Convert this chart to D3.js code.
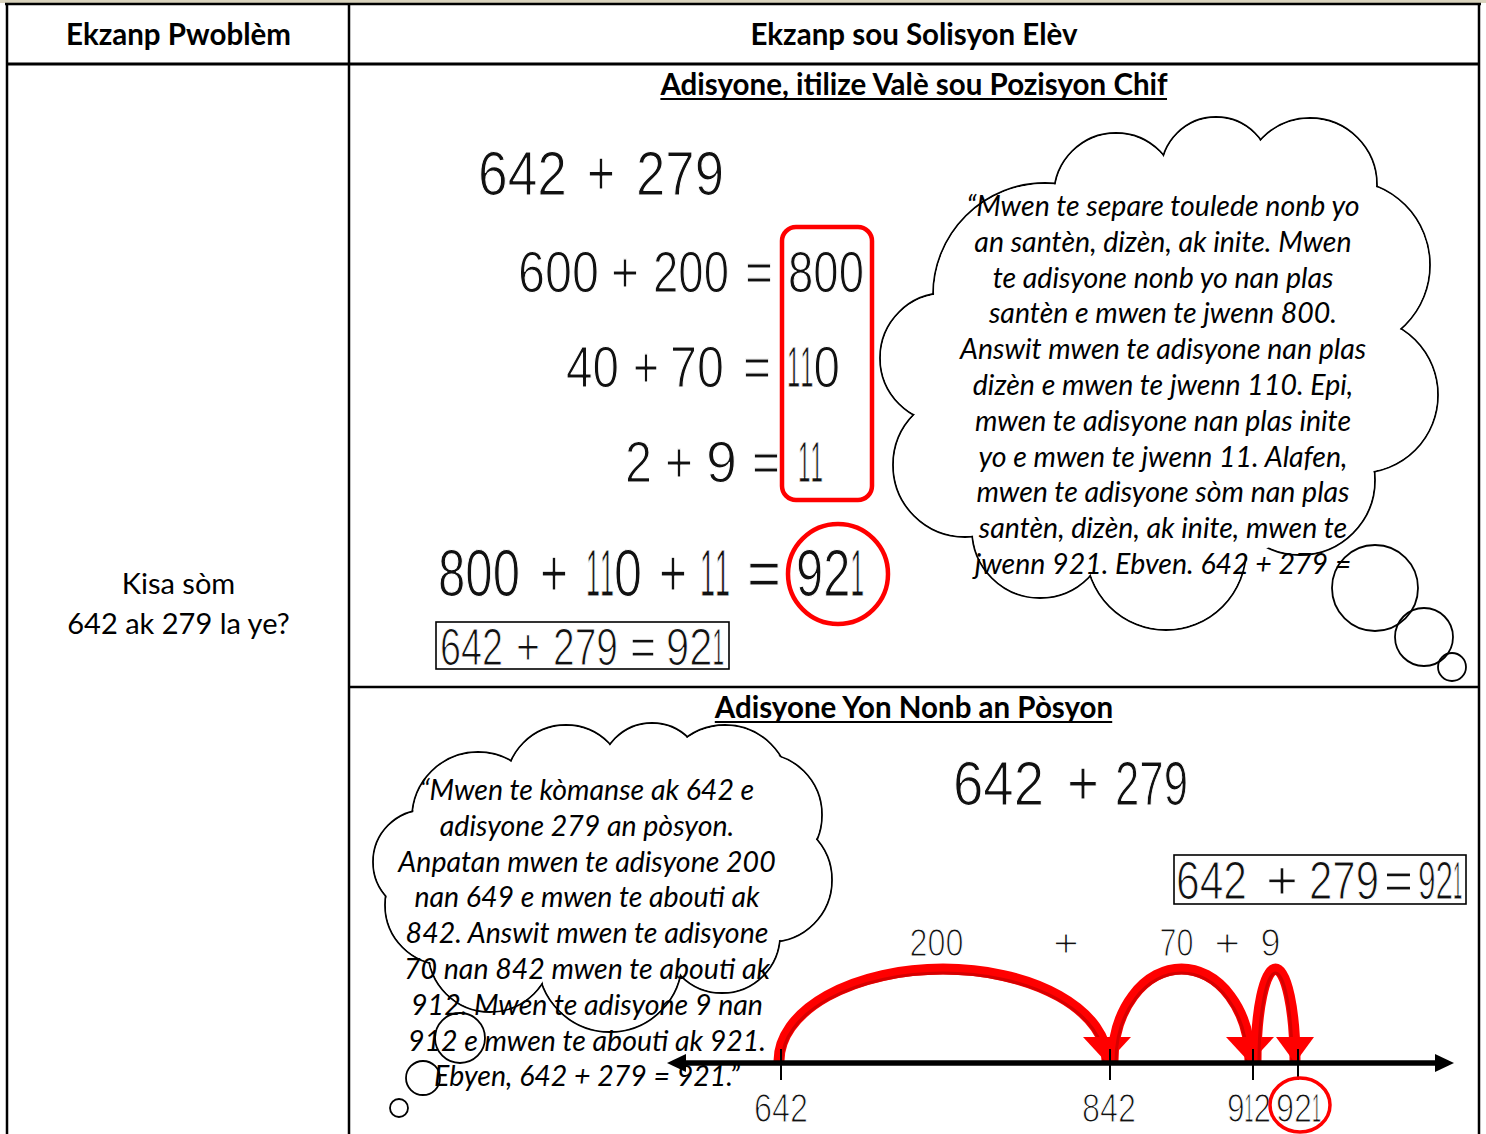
<!DOCTYPE html>
<html>
<head>
<meta charset="utf-8">
<script src="https://cdn.jsdelivr.net/npm/d3@7"></script>
<style>
  html, body { margin: 0; padding: 0; background: #fff; }
  svg { display: block; }
</style>
</head>
<body>
<svg id="chart"></svg>
<script>
// ---------------- DATA ----------------
const headers = ["Ekzanp Pwoblèm", "Ekzanp sou Solisyon Elèv"];
const problemLines = ["Kisa sòm", "642 ak 279 la ye?"];
const sectionTitles = ["Adisyone, itilize Valè sou Pozisyon Chif", "Adisyone Yon Nonb an Pòsyon"];
const addendA = 642;
const addendB = 279;
const placeParts = [[600, 200, 800], [40, 70, 110], [2, 9, 11]];
const partialSums = [800, 110, 11];
const total = 921;
const thought1 = [
  "\u201cMwen te separe toulede nonb yo",
  "an santèn, dizèn, ak inite.  Mwen",
  "te adisyone nonb yo nan plas",
  "santèn e mwen te jwenn 800.",
  "Answit mwen te adisyone nan plas",
  "dizèn e mwen te jwenn 110. Epi,",
  "mwen te adisyone nan plas inite",
  "yo e mwen te jwenn 11. Alafen,",
  "mwen te adisyone sòm nan plas",
  "santèn, dizèn, ak inite, mwen te",
  "jwenn 921. Ebven. 642 + 279 ="
];
const thought2 = [
  "\u201cMwen te kòmanse ak 642 e",
  "adisyone 279 an pòsyon.",
  "Anpatan mwen te adisyone 200",
  "nan 649 e mwen te abouti ak",
  "842. Answit mwen te adisyone",
  "70 nan 842 mwen te abouti ak",
  "912. Mwen te adisyone 9 nan",
  "912 e mwen te abouti ak 921.",
  "Ebyen, 642 + 279 = 921.\u201d"
];
const jumps = [200, 70, 9];
const stops = [642, 842, 912, 921];

// ---------------- SETUP ----------------
const W = 1486, H = 1134;
const svg = d3.select("#chart").attr("width", W).attr("height", H)
  .attr("viewBox", `0 0 ${W} ${H}`);
svg.append("rect").attr("width", W).attr("height", H).attr("fill", "#fff");

const HAND = "'Liberation Sans Narrow', 'Liberation Sans', Arial, sans-serif";
const BODY = "Lato, 'Open Sans', 'Noto Sans', sans-serif";
const RED = "#ff0000";

const measurer = svg.append("text").attr("font-family", HAND).attr("x", 10).attr("y", 10)
  .attr("fill", "none").text("0");
function natural(txt, size) {
  measurer.attr("font-size", size).text(txt);
  return measurer.node().getComputedTextLength();
}

// handwritten tokens: every glyph is squeezed so that its advance box fills its own slot
// inside the token's [x0, x1] span; the digit 1 (a bar in handwriting) gets a narrow slot
function handRow(g, tokens, spans, y, size) {
  const row = g.append("g");
  tokens.forEach((tok, i) => {
    const s = String(tok);
    const [x0, x1] = spans[i];
    const chars = s.split("");
    const weights = chars.map(c => (c === "1" ? 0.5 : 1));
    const unit = (x1 - x0) / d3.sum(weights);
    let cur = x0;
    chars.forEach((c, k) => {
      const slot = unit * weights[k];
      const w = natural(c, size);
      const sx = slot / w;
      row.append("text")
        .attr("transform", `translate(${cur + slot / 2},${y}) scale(${sx},1)`)
        .attr("text-anchor", "middle")
        .attr("font-family", HAND)
        .attr("font-size", size)
        .attr("fill", "#111")
        .attr("stroke", "#fff").attr("stroke-width", 1.2).attr("stroke-linejoin", "round")
        .text(c);
      cur += slot;
    });
  });
  return row;
}

// ---------------- TABLE ----------------
const table = svg.append("g");
table.append("rect").attr("x", 0).attr("y", 0).attr("width", W).attr("height", 3).attr("fill", "#d9d3bd");
const colX = 349, leftX = 7, rightX = 1479, headY = 64, secY = 687;
table.append("line").attr("x1", 5).attr("x2", 1481).attr("y1", 4).attr("y2", 4).attr("stroke", "#000").attr("stroke-width", 2.5);
[leftX, colX, rightX].forEach(x => {
  table.append("line").attr("x1", x).attr("x2", x).attr("y1", 3).attr("y2", H)
    .attr("stroke", "#000").attr("stroke-width", 2.5);
});
table.append("line").attr("x1", leftX).attr("x2", rightX).attr("y1", headY).attr("y2", headY)
  .attr("stroke", "#000").attr("stroke-width", 3);
table.append("line").attr("x1", colX).attr("x2", rightX).attr("y1", secY).attr("y2", secY)
  .attr("stroke", "#000").attr("stroke-width", 2.5);

const headCenters = [(leftX + colX) / 2 + 0.5, (colX + rightX) / 2];
headers.forEach((h, i) => {
  table.append("text").attr("x", headCenters[i]).attr("y", 45)
    .attr("text-anchor", "middle").attr("font-family", BODY).attr("font-weight", 700)
    .attr("font-size", 29.5).attr("fill", "#000").text(h);
});
problemLines.forEach((l, i) => {
  table.append("text").attr("x", headCenters[0]).attr("y", 594 + i * 40)
    .attr("text-anchor", "middle").attr("font-family", BODY)
    .attr("font-size", 29).attr("fill", "#000").text(l);
});
const titleY = [95, 718];
sectionTitles.forEach((s, i) => {
  const t = table.append("text").attr("x", headCenters[1]).attr("y", titleY[i])
    .attr("text-anchor", "middle").attr("font-family", BODY).attr("font-weight", 700)
    .attr("font-size", 29.5).attr("fill", "#000").text(s);
  const bb = t.node().getBBox();
  table.append("line").attr("x1", bb.x + 1).attr("x2", bb.x + bb.width - 1)
    .attr("y1", titleY[i] + 4).attr("y2", titleY[i] + 4)
    .attr("stroke", "#000").attr("stroke-width", 2.2);
});

// ---------------- CLOUDS ----------------
function cloud(g, lobes, filler, bubbles) {
  const c = g.append("g");
  c.selectAll("circle.lobe-s").data(lobes).join("circle")
    .attr("class", "lobe-s")
    .attr("cx", d => d[0]).attr("cy", d => d[1]).attr("r", d => d[2])
    .attr("fill", "#fff").attr("stroke", "#000").attr("stroke-width", 1.8);
  c.selectAll("circle.lobe-f").data(lobes).join("circle")
    .attr("class", "lobe-f")
    .attr("cx", d => d[0]).attr("cy", d => d[1]).attr("r", d => d[2] - 1)
    .attr("fill", "#fff");
  c.append("ellipse").attr("cx", filler[0]).attr("cy", filler[1])
    .attr("rx", filler[2]).attr("ry", filler[3]).attr("fill", "#fff");
  c.selectAll("circle.bub").data(bubbles).join("circle")
    .attr("class", "bub")
    .attr("cx", d => d[0]).attr("cy", d => d[1]).attr("r", d => d[2])
    .attr("fill", "none").attr("stroke", "#000").attr("stroke-width", 1.8);
}
const gSec1 = svg.append("g");
const gSec2 = svg.append("g");

cloud(gSec1,
  [[1045, 295, 112], [945, 358, 65], [965, 465, 72], [1040, 530, 68], [1166, 550, 80],
   [1300, 480, 75], [1360, 395, 78], [1345, 265, 85], [1116, 195, 62], [1216, 172, 55], [1310, 185, 67]],
  [1160, 380, 230, 190],
  [[1375, 588, 43], [1424, 637, 29], [1452, 667, 14]]);

cloud(gSec2,
  [[478, 818, 66], [566, 785, 60], [652, 775, 52], [725, 790, 65], [760, 815, 62], [770, 880, 62],
   [722, 935, 58], [610, 960, 72], [490, 950, 62], [445, 905, 60], [425, 862, 52]],
  [600, 870, 170, 110],
  [[460, 1038, 25], [423, 1078, 17], [399, 1108, 9]]);

thought1.forEach((l, i) => {
  gSec1.append("text").attr("x", 1163).attr("y", 216 + i * 35.8)
    .attr("text-anchor", "middle").attr("font-family", BODY).attr("font-style", "italic")
    .attr("font-size", 28.5).attr("fill", "#000").text(l);
});
thought2.forEach((l, i) => {
  gSec2.append("text").attr("x", 587).attr("y", 800 + i * 35.8)
    .attr("text-anchor", "middle").attr("font-family", BODY).attr("font-style", "italic")
    .attr("font-size", 28.5).attr("fill", "#000").text(l);
});

// ---------------- SECTION 1: place value ----------------
handRow(gSec1, [addendA, "+", addendB], [[478, 567], [587, 615], [636, 724]], 195, 63);
const rowLayouts = [
  { y: 292, spans: [[518, 599], [611, 639], [653, 729], [745, 773], [788, 864]] },
  { y: 387, spans: [[566, 619], [633, 659], [670, 724], [743, 771], [787, 840]] },
  { y: 482, spans: [[625, 652], [665, 693], [706, 737], [752, 780], [798, 823]] }
];
placeParts.forEach((p, i) => {
  handRow(gSec1, [p[0], "+", p[1], "=", p[2]], rowLayouts[i].spans, rowLayouts[i].y, 58);
});
gSec1.append("rect").attr("x", 782).attr("y", 227).attr("width", 90).attr("height", 273)
  .attr("rx", 14).attr("fill", "none").attr("stroke", RED).attr("stroke-width", 4.5);

const sumTokens = [];
partialSums.forEach((v, i) => { if (i) sumTokens.push("+"); sumTokens.push(v); });
sumTokens.push("=", total);
handRow(gSec1, sumTokens,
  [[438, 520], [540, 568], [586, 642], [659, 687], [700, 730], [747, 781], [796, 864]], 596, 66);
gSec1.append("circle").attr("cx", 838).attr("cy", 574).attr("r", 50)
  .attr("fill", "none").attr("stroke", RED).attr("stroke-width", 4.5);

gSec1.append("rect").attr("x", 436).attr("y", 622).attr("width", 293).attr("height", 47)
  .attr("fill", "none").attr("stroke", "#000").attr("stroke-width", 1.6);
handRow(gSec1, [addendA, "+", addendB, "=", total],
  [[440, 503], [516, 540], [553, 618], [630, 656], [666, 724]], 665, 52);

// ---------------- SECTION 2: number line ----------------
handRow(gSec2, [addendA, "+", addendB], [[953, 1044], [1067, 1099], [1115, 1188]], 805, 63);
gSec2.append("rect").attr("x", 1174).attr("y", 855).attr("width", 292).attr("height", 49)
  .attr("fill", "none").attr("stroke", "#000").attr("stroke-width", 1.6);
handRow(gSec2, [addendA, "+", addendB, "=", total],
  [[1176, 1247], [1266, 1298], [1309, 1379], [1384, 1413], [1418, 1462]], 899, 53);

const x = d3.scaleLinear().domain(stops).range([781, 1110, 1253, 1298]);
const lineY = 1063, peakY = 968;

jumps.forEach((j, i) => {
  const x0 = x(stops[i]) + (i === 0 ? -2 : 3), x1 = x(stops[i + 1]) - 3;
  const rx = (x1 - x0) / 2, ry = lineY - 3 - peakY;
  gSec2.append("path")
    .attr("d", `M${x0},${lineY - 2} A${rx},${ry} 0 0 1 ${x1},${lineY - 2}`)
    .attr("fill", "none").attr("stroke", RED).attr("stroke-width", 11);
  gSec2.append("path")
    .attr("d", `M${x0 + 3},${lineY - 2} A${rx - 3},${ry - 4} 0 0 1 ${x1 - 3},${lineY - 2}`)
    .attr("fill", "none").attr("stroke", "#cc0000").attr("stroke-width", 3).attr("opacity", 0.8);
  const hw = i === 2 ? 19 : 24;
  gSec2.append("path")
    .attr("d", `M${x1 - hw},1037 L${x1 + hw},1037 L${x1},${lineY} Z`)
    .attr("fill", RED);
});

gSec2.append("line").attr("x1", 684).attr("x2", 1438).attr("y1", lineY).attr("y2", lineY)
  .attr("stroke", "#000").attr("stroke-width", 5.5);
gSec2.append("path").attr("d", `M667,${lineY} L686,${lineY - 9} L686,${lineY + 9} Z`).attr("fill", "#000");
gSec2.append("path").attr("d", `M1454,${lineY} L1435,${lineY - 9} L1435,${lineY + 9} Z`).attr("fill", "#000");
gSec2.selectAll("line.tick").data(stops).join("line").attr("class", "tick")
  .attr("x1", d => x(d)).attr("x2", d => x(d)).attr("y1", 1049).attr("y2", 1080)
  .attr("stroke", "#000").attr("stroke-width", 2);

// stop labels
const labelHalf = [27, 27, 22, 22.5];
const labelShift = [0, -1, -4, 0.5];
stops.forEach((s, i) => {
  const c = x(s) + labelShift[i];
  handRow(gSec2, [s], [[c - labelHalf[i], c + labelHalf[i]]], 1122, 40);
});
gSec2.append("ellipse").attr("cx", x(total) + 2).attr("cy", 1105).attr("rx", 30).attr("ry", 27)
  .attr("fill", "none").attr("stroke", RED).attr("stroke-width", 3.5);

// jump labels
const labelX = jumps.map((j, i) => (x(stops[i]) + x(stops[i + 1])) / 2 - (i === 0 ? 9 : 5));
const jumpHalf = [27, 17, 10];
const jumpTokens = [], jumpSpans = [];
jumps.forEach((j, i) => {
  jumpTokens.push(j);
  jumpSpans.push([labelX[i] - jumpHalf[i], labelX[i] + jumpHalf[i]]);
  if (i < jumps.length - 1) {
    const px = labelX[i] + 0.54 * (labelX[i + 1] - labelX[i]);
    jumpTokens.push("+");
    jumpSpans.push([px - 13, px + 13]);
  }
});
handRow(gSec2, jumpTokens, jumpSpans, 956, 38);

measurer.remove();
</script>
</body>
</html>
